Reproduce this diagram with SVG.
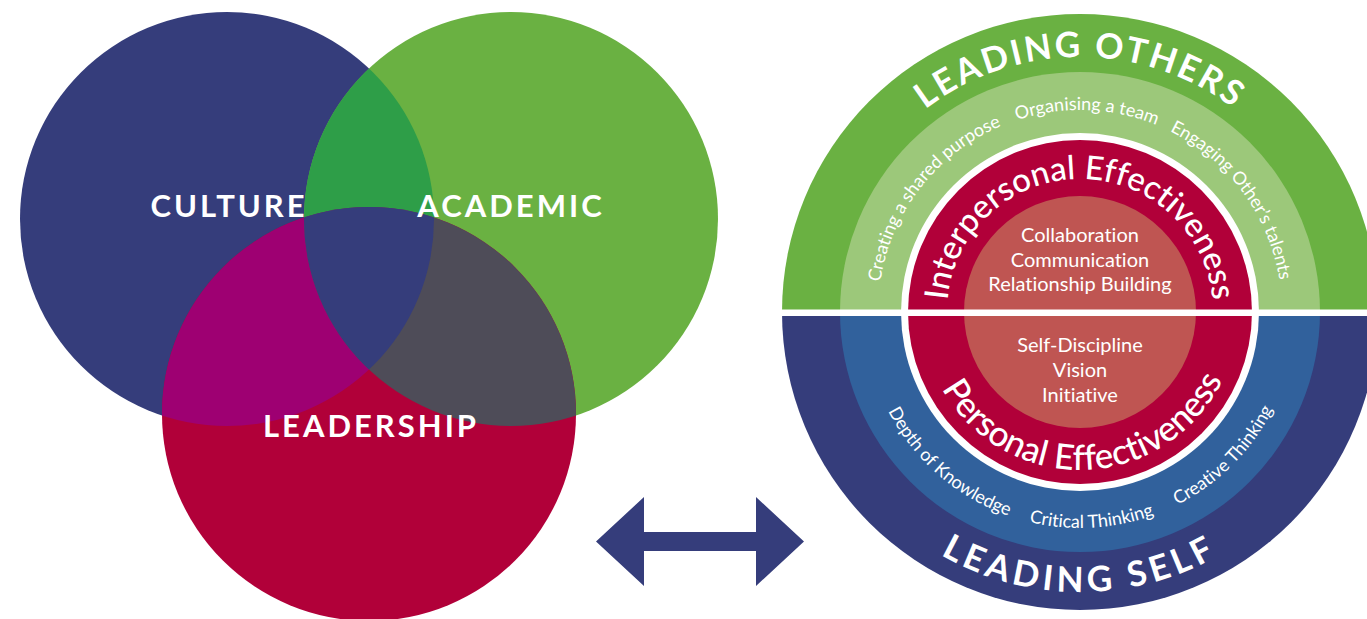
<svg xmlns="http://www.w3.org/2000/svg" width="1367" height="619" viewBox="0 0 1367 619">
<style>
text{font-family:Lato,"Liberation Sans",sans-serif;fill:#fff;font-variant-ligatures:none}
.venn{font-size:31px;font-weight:bold;letter-spacing:3px;text-anchor:middle}
.big{font-size:35px;font-weight:bold;letter-spacing:2.5px;text-anchor:middle}
.ring{font-size:18px;text-anchor:middle}
.eff{font-size:33px;font-weight:500;text-anchor:middle}
.core{font-size:20px;text-anchor:middle}
</style>
<defs>
<clipPath id="clipC"><circle cx="227" cy="219" r="207"/></clipPath>
<clipPath id="clipA"><circle cx="511" cy="219" r="207"/></clipPath>
<path id="pOthers" d="M 825 312 A 255 255 0 0 1 1335 312"/>
<path id="pSelf" d="M 800 312 A 280 280 0 0 0 1360 312"/>
<path id="pTopInner" d="M 878 312 A 202 202 0 0 1 1282 312"/>
<path id="pBotInner" d="M 864 312 A 216 216 0 0 0 1296 312"/>
<path id="pInter" d="M 947 312 A 133 133 0 0 1 1213 312"/>
<path id="pPersonal" d="M 922 312 A 158 158 0 0 0 1238 312"/>
</defs>

<g id="venn">
<g id="culture"><circle cx="227" cy="219" r="207" fill="#353d7b"/></g>
<g id="academic"><circle cx="511" cy="219" r="207" fill="#6ab142"/></g>
<g id="leadership"><circle cx="369" cy="414" r="207" fill="#b10039"/></g>
<g id="overlaps">
<circle cx="511" cy="219" r="207" fill="#2e9e48" clip-path="url(#clipC)"/>
<circle cx="369" cy="414" r="207" fill="#9e0072" clip-path="url(#clipC)"/>
<circle cx="369" cy="414" r="207" fill="#4e4c58" clip-path="url(#clipA)"/>
<g clip-path="url(#clipA)"><circle cx="369" cy="414" r="207" fill="#353d7b" clip-path="url(#clipC)"/></g>
</g>
<text class="venn" x="229" y="217">CULTURE</text>
<text class="venn" x="511" y="217">ACADEMIC</text>
<text class="venn" x="371" y="437">LEADERSHIP</text>
</g>

<g id="connectors">
<polygon points="596,541.5 644,497 644,532 756,532 756,497 804,541.5 756,586 756,551 644,551 644,586" fill="#353d7b"/>
</g>

<g id="model">
<g id="leading-others">
<path d="M 782 312 A 298 298 0 0 1 1378 312 Z" fill="#6ab142"/>
<path d="M 840 312 A 240 240 0 0 1 1320 312 Z" fill="#9cc87a"/>
</g>
<g id="leading-self">
<path d="M 782 312 A 298 298 0 0 0 1378 312 Z" fill="#353d7b"/>
<path d="M 840 312 A 240 240 0 0 0 1320 312 Z" fill="#31619c"/>
</g>
<g id="effectiveness">
<circle cx="1080" cy="312" r="179" fill="#fff"/>
<circle cx="1080" cy="312" r="172" fill="#b10039"/>
<circle cx="1080" cy="312" r="116" fill="#bf5552"/>
</g>
<rect x="780" y="309.5" width="600" height="6.5" fill="#fff"/>

<text class="big"><textPath href="#pOthers" startOffset="50%">LEADING OTHERS</textPath></text>
<text class="big" style="letter-spacing:4.5px"><textPath href="#pSelf" startOffset="50%">LEADING SELF</textPath></text>

<text class="ring"><textPath href="#pTopInner" startOffset="21%">Creating a shared purpose</textPath></text>
<text class="ring"><textPath href="#pTopInner" startOffset="51.1%">Organising a team</textPath></text>
<text class="ring"><textPath href="#pTopInner" startOffset="79.8%">Engaging Other’s talents</textPath></text>

<text class="ring"><textPath href="#pBotInner" startOffset="27.2%">Depth of Knowledge</textPath></text>
<text class="ring"><textPath href="#pBotInner" startOffset="51.8%">Critical Thinking</textPath></text>
<text class="ring"><textPath href="#pBotInner" startOffset="75%">Creative Thinking</textPath></text>

<text class="eff"><textPath href="#pInter" startOffset="50%">Interpersonal Effectiveness</textPath></text>
<text class="eff" style="font-size:35px"><textPath href="#pPersonal" startOffset="51%">Personal Effectiveness</textPath></text>

<text class="core" x="1080" y="242">Collaboration</text>
<text class="core" x="1080" y="267">Communication</text>
<text class="core" x="1080" y="291">Relationship Building</text>
<text class="core" x="1080" y="351.5">Self-Discipline</text>
<text class="core" x="1080" y="376.5">Vision</text>
<text class="core" x="1080" y="401.5">Initiative</text>
</g>
</svg>
